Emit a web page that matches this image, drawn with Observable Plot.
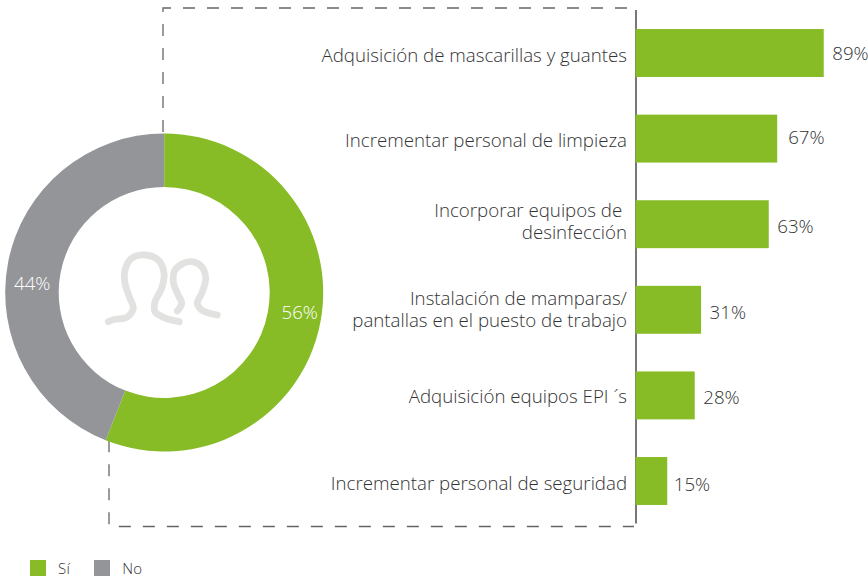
<!DOCTYPE html>
<html lang="es">
<head>
<meta charset="utf-8">
<script src="https://cdn.jsdelivr.net/npm/d3@7"></script>
<script src="https://cdn.jsdelivr.net/npm/@observablehq/plot@0.6"></script>
<style>
html,body{margin:0;padding:0;background:#fff;}
svg{display:block;}
#legend{display:flex;align-items:center;height:16px;margin-top:8px;padding-left:30px;font:300 15px/16px "Open Sans",sans-serif;letter-spacing:.3px;color:#333;}
#legend i{display:inline-block;width:16px;height:16px;margin-right:12px;}
#legend span{margin-right:24px;}
</style>
</head>
<body>
<div id="chart"></div>
<div id="legend"></div>
<script>
// Data
const measures = ["Adquisición de mascarillas y guantes","Incrementar personal de limpieza","Incorporar equipos de \ndesinfección","Instalación de mamparas/\npantallas en el puesto de trabajo","Adquisición equipos EPI ´s","Incrementar personal de seguridad"];
const measureValues = [89,67,63,31,28,15];
const answers = ["Sí","No"];
const answerValues = [56,44];

// Styles and layout
const GREEN="#87bc26", GREY="#939598", INK="#333", W=868, H=552, FS=18.7;
const answerColors=[GREEN,GREY];
const cx=164.2, cy=292.5, R=159, r=105.5, frameTop=8, frameBottom=526.5, frameRight=638, frameLeft=163;
const answerLabelOffsets=[[135.5,19.5],[-132,-9.5]];
const valueDx=[8,10.5,8,8,8,6];
const valueDy=[1,-1,2,3,2.5,4];
const labelDy=[1,1,-4,-1,0,1];
const iconLeft=[[108.3,321.7],[115,319.3],[126.7,317.3],[133.3,308.3],[129.3,296.7],[125,283.3],[125,270],[131.7,258.3],[145,255],[158.3,260],[164,273.3],[161.7,288.3],[155,301.7],[155,311.7],[163.3,317.3],[179.3,321.7]];
const iconRight=[[177.3,311],[181.7,303.3],[177.3,293.3],[173.3,281.7],[175,270],[183.3,263.3],[191.7,261.7],[201.7,266.7],[205.7,278.3],[201.7,293.3],[197.3,303.3],[201.7,310],[217.3,315]];

const rows = measures.map((name,i)=>({name,value:measureValues[i],dx:valueDx[i],dy:valueDy[i],ldy:labelDy[i]}));
const pieData = d3.pie().sort(null).value(d=>d.value)(answers.map((name,i)=>({name,value:answerValues[i],color:answerColors[i],offset:answerLabelOffsets[i]})));

function donut(){
  const g=d3.create("svg:g");
  const arc=d3.arc().innerRadius(r).outerRadius(R);
  const boundary=pieData[0].endAngle;
  const bx=Math.round(cx+R*Math.sin(boundary))+3, by=cy-R*Math.cos(boundary);
  // dashed leader frame joining the "Sí" slice to the bar panel
  g.append("path").attr("fill","none").attr("stroke","#666").attr("stroke-width",1.3).attr("stroke-dasharray","12 12")
    .attr("d",`M${frameLeft},${cy-R-1.5}V${frameTop}H${frameRight}`);
  g.append("path").attr("fill","none").attr("stroke","#666").attr("stroke-width",1.3).attr("stroke-dasharray","12 12")
    .attr("d",`M${bx},${by}V${frameBottom}H${frameRight-4}`);
  const slices=g.append("g").attr("transform",`translate(${cx},${cy})`);
  slices.selectAll("path").data(pieData).join("path").attr("d",arc).attr("fill",d=>d.data.color);
  slices.selectAll("text").data(pieData).join("text")
    .attr("x",d=>d.data.offset[0])
    .attr("y",d=>d.data.offset[1])
    .attr("text-anchor","middle").attr("dy","0.35em").attr("fill","#fff")
    .attr("font-family","'Open Sans',sans-serif").attr("font-weight",300).attr("font-size",FS)
    .text(d=>d.data.value+"%");
  const line=d3.line().curve(d3.curveCatmullRom);
  g.selectAll("path.icon").data([iconLeft,iconRight]).join("path").attr("class","icon")
    .attr("d",line).attr("fill","none").attr("stroke","#e2e2e1").attr("stroke-width",6.8).attr("stroke-linecap","round");
  return g.node();
}

const plot = Plot.plot({
  width:W, height:H, marginTop:10, marginBottom:28.5, marginLeft:0, marginRight:0,
  style:{background:"#fff",fontFamily:"'Open Sans',sans-serif"},
  x:{domain:[0,100],range:[635.5,847],axis:null},
  y:{domain:measures,range:[10.2,523.8],paddingInner:0.44,paddingOuter:0.22,align:0.5,round:false,axis:null},
  marks:[
    donut,
    Plot.ruleX([0],{stroke:"#1d1d1b",strokeWidth:1.2}),
    Plot.barX(rows,{x:"value",y:"name",fill:GREEN}),
    ...rows.map(d=>Plot.text([d],{x:0,y:"name",text:"name",textAnchor:"end",dx:-9,dy:d.ldy,fill:INK,fontSize:FS,fontWeight:300,lineHeight:1.18})),
    ...rows.map(d=>Plot.text([d],{x:"value",y:"name",text:e=>e.value+"%",textAnchor:"start",dx:d.dx,dy:d.dy,fill:INK,fontSize:FS,fontWeight:300}))
  ]
});
document.getElementById("chart").append(plot);
document.getElementById("legend").innerHTML=answers.map((a,i)=>`<i style="background:${answerColors[i]}"></i><span>${a}</span>`).join("");
</script>
</body>
</html>
